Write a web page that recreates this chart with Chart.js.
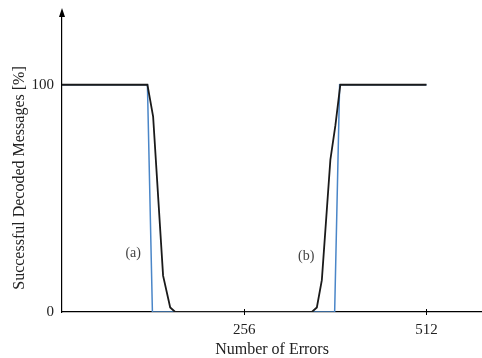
<!DOCTYPE html>
<html>
<head>
<meta charset="utf-8">
<script src="https://cdn.jsdelivr.net/npm/chart.js@4"></script>
<style>
  html, body { margin: 0; padding: 0; background: #fff; }
  #wrap { width: 482px; height: 358px; }
</style>
</head>
<body>
<div id="wrap"><canvas id="chart"></canvas></div>
<script>
// ── Data ───────────────────────────────────────────────
const measuredX = [0, 120, 124, 128, 142, 152, 159, 351, 358, 365, 377, 384, 391, 512];
const measuredY = [100, 100, 93, 86, 16, 2, 0, 0, 2, 14, 67, 82, 100, 100];

const idealX = [0, 120, 127, 383, 390, 512];
const idealY = [100, 100, 0, 0, 100, 100];

const xTicks = [256, 512];
const yTicks = [0, 100];

const curveLabels = [
  { text: '(a)', x: 100, y: 26 },
  { text: '(b)', x: 343, y: 24.5 }
];

const SERIF = "'Liberation Serif', 'DejaVu Serif', serif";

// ── Axis decorations: arrow, tick marks, y title, curve labels ──
const decorations = {
  id: 'decorations',
  afterDraw(chart) {
    const { ctx, chartArea: a, scales: { x, y } } = chart;
    ctx.save();
    // arrow head on the y axis
    ctx.fillStyle = '#000';
    ctx.beginPath();
    ctx.moveTo(a.left, a.top - 4);
    ctx.lineTo(a.left - 3, a.top + 5);
    ctx.lineTo(a.left + 3, a.top + 5);
    ctx.closePath();
    ctx.fill();

    // short ticks crossing the x axis
    ctx.strokeStyle = '#000';
    ctx.lineWidth = 1;
    xTicks.forEach(v => {
      const px = Math.round(x.getPixelForValue(v)) + 0.5;
      ctx.beginPath();
      ctx.moveTo(px, a.bottom - 3);
      ctx.lineTo(px, a.bottom + 3);
      ctx.stroke();
    });

    // y axis title
    ctx.fillStyle = '#222';
    ctx.font = '16px ' + SERIF;
    ctx.textAlign = 'center';
    ctx.textBaseline = 'middle';
    ctx.translate(20, 178);
    ctx.rotate(-Math.PI / 2);
    ctx.fillText('Successful Decoded Messages [%]', 0, 0);
    ctx.setTransform(1, 0, 0, 1, 0, 0);

    // curve labels
    ctx.fillStyle = '#444';
    ctx.font = '14px ' + SERIF;
    curveLabels.forEach(l => {
      ctx.fillText(l.text, x.getPixelForValue(l.x), y.getPixelForValue(l.y));
    });
    ctx.restore();
  }
};

new Chart(document.getElementById('chart'), {
  type: 'line',
  data: {
    datasets: [
      {
        label: 'measured',
        data: measuredX.map((v, i) => ({ x: v, y: measuredY[i] })),
        borderColor: '#1a1a1a',
        borderWidth: 1.8,
        pointRadius: 0,
        tension: 0
      },
      {
        label: 'ideal',
        data: idealX.map((v, i) => ({ x: v, y: idealY[i] })),
        borderColor: '#4a86c8',
        borderWidth: 1.5,
        pointRadius: 0,
        tension: 0
      }
    ]
  },
  options: {
    responsive: true,
    maintainAspectRatio: false,
    animation: false,
    layout: { padding: { top: 12, right: 0, bottom: 0, left: 0 } },
    plugins: {
      legend: { display: false },
      tooltip: { enabled: false }
    },
    scales: {
      x: {
        type: 'linear',
        min: 0,
        max: 590,
        afterBuildTicks: s => { s.ticks = xTicks.map(v => ({ value: v })); },
        afterFit: s => { s.height = 46; },
        grid: { display: false },
        border: { display: true, color: '#000', width: 1.2 },
        ticks: {
          color: '#222',
          padding: 1,
          maxRotation: 0,
          font: { family: SERIF, size: 15 }
        },
        title: {
          display: true,
          text: 'Number of Errors',
          color: '#222',
          padding: { top: 0, bottom: -1 },
          font: { family: SERIF, size: 16 }
        }
      },
      y: {
        type: 'linear',
        min: 0,
        max: 132,
        afterBuildTicks: s => { s.ticks = yTicks.map(v => ({ value: v })); },
        afterFit: s => { s.width = 62; },
        grid: { display: false },
        border: { display: true, color: '#000', width: 1.2 },
        ticks: {
          color: '#222',
          padding: 0,
          font: { family: SERIF, size: 15 }
        }
      }
    }
  },
  plugins: [decorations]
});
</script>
</body>
</html>
